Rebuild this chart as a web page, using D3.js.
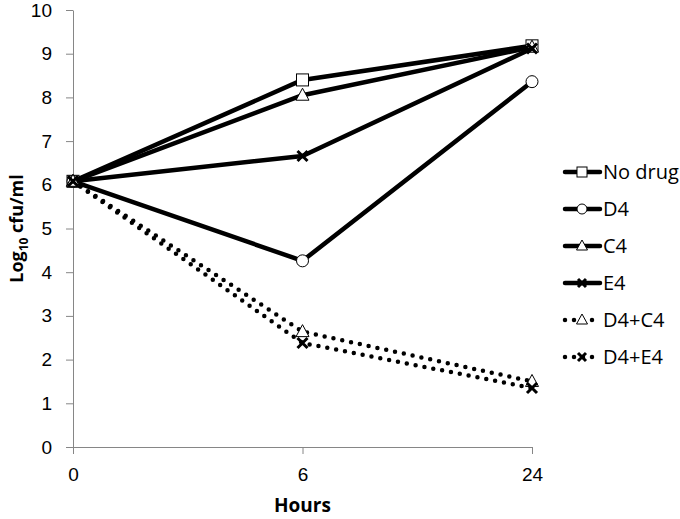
<!DOCTYPE html>
<html>
<head>
<meta charset="utf-8">
<script src="https://cdn.jsdelivr.net/npm/d3@7"></script>
<style>
  body { margin: 0; background: #fff; }
  svg { display: block; font-family: "Open Sans", "Lato", sans-serif; }
</style>
</head>
<body>
<div id="chart"></div>
<script>
const hours = ["0", "6", "24"];
const seriesNames = ["No drug", "D4", "C4", "E4", "D4+C4", "D4+E4"];
const noDrug = [6.08, 8.40, 9.18];
const d4 = [6.08, 4.26, 8.36];
const c4 = [6.08, 8.05, 9.15];
const e4 = [6.08, 6.66, 9.12];
const d4c4 = [6.08, 2.64, 1.50];
const d4e4 = [6.08, 2.38, 1.35];
const yTicks = [0, 1, 2, 3, 4, 5, 6, 7, 8, 9, 10];

const markers = ["square", "circle", "triangle", "cross", "triangle", "cross"];
const dotted = [false, false, false, false, true, true];
const allValues = [noDrug, d4, c4, e4, d4c4, d4e4];

const width = 680, height = 519;
const margin = { top: 10, right: 148, bottom: 72, left: 73 };

const svg = d3.select("#chart").append("svg")
  .attr("width", width)
  .attr("height", height);

const x = d3.scalePoint()
  .domain(hours)
  .range([margin.left, width - margin.right]);

const y = d3.scaleLinear()
  .domain([0, 10])
  .range([height - margin.bottom, margin.top]);

const axisColor = "#868686";

// y axis
const yAxis = g => g
  .attr("transform", `translate(${margin.left},0)`)
  .call(d3.axisLeft(y).tickValues(yTicks).tickSize(7).tickPadding(14).tickSizeOuter(0))
  .call(g => g.selectAll("line, path").attr("stroke", axisColor))
  .call(g => g.selectAll("text").attr("font-size", 19).attr("fill", "#000"));

// x axis
const xAxis = g => g
  .attr("transform", `translate(0,${height - margin.bottom})`)
  .call(d3.axisBottom(x).tickSize(7).tickPadding(14).tickSizeOuter(0))
  .call(g => g.selectAll("line, path").attr("stroke", axisColor))
  .call(g => g.selectAll("text").attr("font-size", 19).attr("fill", "#000"));

svg.append("g").call(yAxis);
svg.append("g").call(xAxis);

svg.append("text")
  .attr("x", x("6"))
  .attr("y", 512)
  .attr("text-anchor", "middle")
  .attr("font-weight", "bold")
  .attr("font-size", 19)
  .text("Hours");

const ytitle = svg.append("text")
  .attr("transform", `translate(23,${(y(0) + y(10)) / 2}) rotate(-90)`)
  .attr("text-anchor", "middle")
  .attr("font-weight", "bold")
  .attr("font-size", 18);
ytitle.append("tspan").text("Log");
ytitle.append("tspan").attr("font-size", 12).attr("dy", 5).text("10");
ytitle.append("tspan").attr("dy", -5).text(" cfu/ml");

const line = d3.line()
  .x((d, i) => x(hours[i]))
  .y(d => y(d));

function drawMarker(g, type, cx, cy, s) {
  const h = s / 2;
  if (type === "square") {
    g.append("rect").attr("x", cx - h).attr("y", cy - h).attr("width", s).attr("height", s)
      .attr("fill", "#fff").attr("stroke", "#000").attr("stroke-width", 1);
  } else if (type === "circle") {
    g.append("circle").attr("cx", cx).attr("cy", cy).attr("r", h)
      .attr("fill", "#fff").attr("stroke", "#000").attr("stroke-width", 1);
  } else if (type === "triangle") {
    g.append("path").attr("d", `M${cx},${cy - h - 1}L${cx + h + 0.5},${cy + h - 1}L${cx - h - 0.5},${cy + h - 1}Z`)
      .attr("fill", "#fff").attr("stroke", "#000").attr("stroke-width", 1);
  } else {
    const c = h - 1;
    g.append("path").attr("d", `M${cx - c},${cy - c}L${cx + c},${cy + c}M${cx - c},${cy + c}L${cx + c},${cy - c}`)
      .attr("fill", "none").attr("stroke", "#000").attr("stroke-width", 3);
  }
}

allValues.forEach((vals, k) => {
  const g = svg.append("g");
  g.append("path")
    .datum(vals)
    .attr("fill", "none")
    .attr("stroke", "#000")
    .attr("stroke-width", 4.5)
    .attr("stroke-linecap", "round")
    .attr("stroke-linejoin", "round")
    .attr("stroke-dasharray", dotted[k] ? "0,9" : null)
    .attr("d", line);
  vals.forEach((v, i) => drawMarker(g, markers[k], x(hours[i]), y(v), 12));
});

// legend
const legend = svg.append("g");
seriesNames.forEach((name, k) => {
  const ly = 172 + k * 37;
  const g = legend.append("g");
  g.append("line")
    .attr("x1", 565).attr("x2", 600).attr("y1", ly).attr("y2", ly)
    .attr("stroke", "#000").attr("stroke-width", 4.5)
    .attr("stroke-linecap", "round")
    .attr("stroke-dasharray", dotted[k] ? "0,9" : null);
  drawMarker(g, markers[k], 582, ly, 10);
  g.append("text")
    .attr("x", 603).attr("y", ly + 7)
    .attr("font-size", 20)
    .text(name);
});
</script>
</body>
</html>
